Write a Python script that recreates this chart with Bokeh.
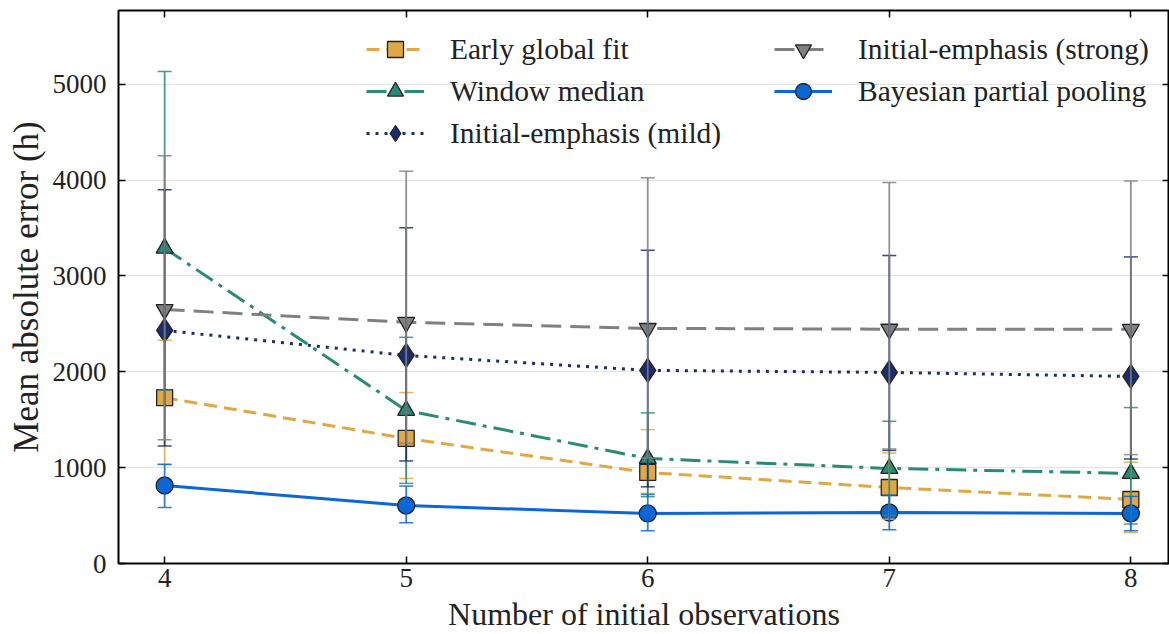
from bokeh.plotting import figure
from bokeh.models import (ColumnDataSource, Whisker, TeeHead, Legend, LegendItem,
                          LinearAxis, FixedTicker, Range1d)
from bokeh.embed import file_html
from bokeh.resources import INLINE

# ---------------- data ----------------
n_obs = [4, 5, 6, 7, 8]

early_mean = [1730, 1305, 950, 793, 668]
early_low = [1030, 888, 732, 463, 324]
early_high = [2330, 1784, 1397, 1153, 1056]

window_mean = [3290, 1597, 1096, 992, 940]
window_low = [1810, 836, 697, 500, 411]
window_high = [5133, 2360, 1571, 1484, 1627]

mild_mean = [2432, 2171, 2015, 1994, 1952]
mild_low = [1226, 1070, 800, 1180, 1090]
mild_high = [3899, 3502, 3268, 3213, 3199]

strong_mean = [2650, 2516, 2453, 2445, 2443]
strong_low = [1290, 1254, 1100, 1195, 1136]
strong_high = [4254, 4094, 4024, 3976, 3990]

bayes_mean = [814, 605, 522, 532, 522]
bayes_low = [583, 425, 341, 352, 341]
bayes_high = [1036, 808, 720, 712, 700]

y_ticks = [0, 1000, 2000, 3000, 4000, 5000]

FONT = "Liberation Serif"

series = [
    dict(name="Early global fit", mean=early_mean, low=early_low, high=early_high,
         color="#E0A844", marker="square", size=16, dash="13 7"),
    dict(name="Window median", mean=window_mean, low=window_low, high=window_high,
         color="#2A8A76", marker="triangle", size=17, dash="20 7 4 7"),
    dict(name="Initial-emphasis (mild)", mean=mild_mean, low=mild_low, high=mild_high,
         color="#1B2D6B", marker="diamond", size=24, dash="3 6"),
    dict(name="Initial-emphasis (strong)", mean=strong_mean, low=strong_low, high=strong_high,
         color="#808080", marker="inverted_triangle", size=17, dash="20 9"),
    dict(name="Bayesian partial pooling", mean=bayes_mean, low=bayes_low, high=bayes_high,
         color="#0B66D6", marker="circle", size=17, dash="solid"),
]

p = figure(width=1169, height=634, output_backend="svg", toolbar_location=None,
           x_range=Range1d(3.809, 8.16), y_range=Range1d(0, 5770),
           min_border_left=118, min_border_right=0, min_border_top=10, min_border_bottom=70)

p.background_fill_color = "white"
p.border_fill_color = "white"
p.outline_line_color = "black"
p.outline_line_width = 2

p.xgrid.grid_line_color = None
p.ygrid.grid_line_color = "#e3e3e3"
p.ygrid.grid_line_width = 1.2
p.ygrid.ticker = FixedTicker(ticks=y_ticks)

for ax in (p.xaxis[0], p.yaxis[0]):
    ax.axis_line_color = None
    ax.major_tick_in = 7
    ax.major_tick_out = 0
    ax.major_tick_line_color = "black"
    ax.major_tick_line_width = 1.5
    ax.minor_tick_line_color = None
    ax.major_label_text_font = FONT
    ax.major_label_text_font_size = "27px"
    ax.major_label_text_color = "#222222"
    ax.axis_label_text_font = FONT
    ax.axis_label_text_font_style = "normal"
    ax.axis_label_text_color = "#222222"

p.xaxis.axis_label_text_font_size = "32px"
p.yaxis.axis_label_text_font_size = "35px"
p.xaxis.ticker = FixedTicker(ticks=n_obs)
p.yaxis.ticker = FixedTicker(ticks=y_ticks)
p.xaxis.axis_label = "Number of initial observations"
p.yaxis.axis_label = "Mean absolute error (h)"
p.xaxis.major_label_standoff = 5
p.yaxis.major_label_standoff = 12
p.xaxis.axis_label_standoff = 6
p.yaxis.axis_label_standoff = 4

# mirrored ticks on right and top
right_ax = LinearAxis(ticker=FixedTicker(ticks=y_ticks), axis_line_color=None,
                      major_tick_in=7, major_tick_out=0, major_tick_line_color="black",
                      major_tick_line_width=1.5, minor_tick_line_color=None,
                      major_label_text_font_size="0px", major_label_standoff=0)
top_ax = LinearAxis(ticker=FixedTicker(ticks=n_obs), axis_line_color=None,
                    major_tick_in=7, major_tick_out=0, major_tick_line_color="black",
                    major_tick_line_width=1.5, minor_tick_line_color=None,
                    major_label_text_font_size="0px", major_label_standoff=0)
p.add_layout(right_ax, "right")
p.add_layout(top_ax, "above")

for s in series:
    src = ColumnDataSource(dict(x=n_obs, y=s["mean"], lo=s["low"], hi=s["high"]))
    w = Whisker(source=src, base="x", lower="lo", upper="hi", dimension="height",
                line_color=s["color"], line_width=1.8, line_alpha=0.85, level="glyph",
                upper_head=TeeHead(size=14, line_color=s["color"], line_width=1.5, line_alpha=0.85),
                lower_head=TeeHead(size=14, line_color=s["color"], line_width=1.5, line_alpha=0.85))
    p.add_layout(w)
    s["src"] = src

renderers = []
for s in series:
    # legend-only vertical error-bar mark (no data drawn in the plot)
    eb = p.scatter(x=[], y=[], marker="dash", angle=1.5708, size=26,
                   line_color=s["color"], line_width=1.8, line_alpha=0.85)
    ln = p.line("x", "y", source=s["src"], line_color=s["color"], line_width=3,
                line_dash=s["dash"])
    sc = p.scatter("x", "y", source=s["src"], marker=s["marker"], size=s["size"],
                   fill_color=s["color"], line_color="#222222", line_width=1.3)
    renderers.append((s["name"], [eb, ln, sc]))

leg_common = dict(background_fill_alpha=0, border_line_color=None,
                  label_text_font=FONT, label_text_font_size="29.5px",
                  label_text_color="#222222", glyph_width=58, glyph_height=40,
                  spacing=2, label_standoff=26, padding=0, margin=0)

legend1 = Legend(items=[LegendItem(label=n, renderers=r) for n, r in renderers[:3]],
                 location=(248, 410), **leg_common)
legend2 = Legend(items=[LegendItem(label=n, renderers=r) for n, r in renderers[3:]],
                 location=(656, 452), **leg_common)
p.add_layout(legend1)
p.add_layout(legend2)

open("out.html", "w").write(file_html(p, INLINE))
